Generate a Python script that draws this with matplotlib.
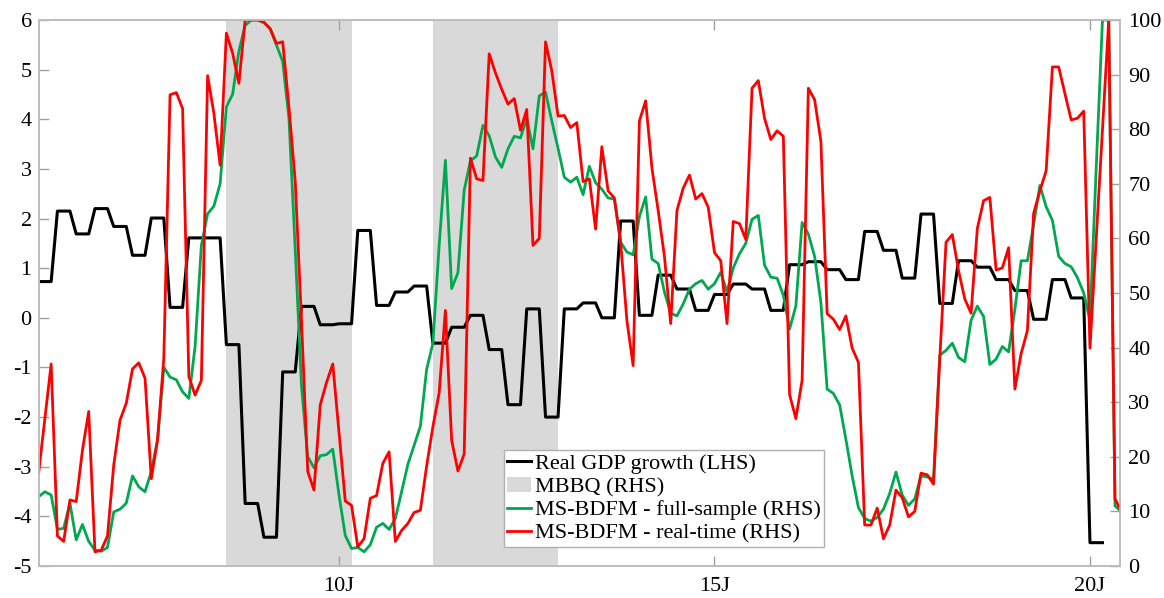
import numpy as np
import matplotlib
matplotlib.use('Agg')
import matplotlib.pyplot as plt
from matplotlib.patches import Patch
from matplotlib.lines import Line2D

plt.rcParams['font.family'] = ['Liberation Serif', 'DejaVu Serif']
plt.rcParams['axes.unicode_minus'] = False

# quarterly real GDP growth (LHS), 2006Q1 - 2020Q1, drawn as 3-month steps
gdp_q = [0.73, 2.15, 1.69, 2.20, 1.84, 1.26, 2.01, 0.21, 1.61, 1.61,
         -0.54, -3.74, -4.42, -1.09, 0.23, -0.14, -0.12, 1.76, 0.25, 0.52,
         0.64, -0.51, -0.19, 0.05, -0.64, -1.75, 0.18, -2.00, 0.18, 0.30,
         0.00, 1.95, 0.05, 0.86, 0.58, 0.15, 0.47, 0.68, 0.58, 0.15,
         1.07, 1.13, 0.97, 0.77, 1.74, 1.36, 0.80, 2.09, 0.29, 1.15,
         1.02, 0.77, 0.55, -0.03, 0.77, 0.40, -4.53]

# monthly recession probabilities (RHS), Jan 2006 - Jun 2020
full_sample = [12.7, 13.6, 13.0, 6.7, 6.9, 11.5, 4.8, 7.6, 4.5, 2.9,
               2.7, 3.4, 9.9, 10.4, 11.5, 16.5, 14.5, 13.6, 17.3, 23.1,
               36.4, 34.6, 34.1, 31.9, 30.7, 40.2, 58.7, 64.5, 65.9, 70.0,
               84.1, 86.4, 94.3, 99.0, 100, 100, 99.5, 98.4, 95.4, 92.4,
               82, 58, 33, 20.0, 18.0, 20.2, 20.4, 21.4, 13.0, 5.6,
               3.2, 3.4, 2.6, 3.9, 7.1, 7.8, 6.7, 8.7, 13.6, 18.6,
               22.1, 25.6, 36.0, 40.8, 58.7, 74.3, 50.8, 53.7, 68.8, 74.2,
               75.1, 80.7, 78.8, 74.9, 73.0, 76.4, 78.7, 78.4, 82.0, 76.4,
               86.1, 86.8, 81.5, 76.5, 71.2, 70.3, 71.2, 68.0, 73.2, 70.2,
               69.0, 67.4, 67.2, 59.3, 57.5, 57.0, 64.0, 67.6, 56.2, 55.4,
               50.2, 46.3, 45.8, 48.0, 50.7, 51.7, 52.3, 50.7, 51.7, 53.8,
               50.2, 54.6, 57.2, 59.1, 63.5, 64.2, 55.1, 52.9, 52.7, 49.6,
               43.4, 47.6, 62.9, 60.8, 56.7, 48.3, 32.4, 31.6, 29.5, 23.2,
               16.5, 10.7, 8.7, 8.2, 8.9, 10.4, 13.3, 17.2, 13.0, 11.1,
               12.3, 16.5, 16.3, 15.9, 38.6, 39.5, 40.8, 38.2, 37.4, 45.0,
               47.6, 45.7, 36.9, 37.9, 40.2, 39.2, 47.0, 55.9, 55.9, 62.5,
               69.7, 65.8, 63.3, 56.7, 55.4, 54.8, 52.8, 50.0, 45.0, 73.0,
               100, 100, 11.0, 10.0]

real_time = [17.1, 27.0, 37.0, 5.5, 4.5, 12.1, 11.8, 21.2, 28.3, 2.6,
             2.9, 5.5, 18.5, 26.7, 29.8, 36.1, 37.2, 34.4, 16.0, 23.1,
             38.0, 86.3, 86.7, 83.8, 34.7, 31.3, 34.0, 89.8, 82.9, 73.4,
             97.6, 93.9, 88.4, 100, 100, 100, 99.6, 98.4, 95.7, 96.0,
             84.0, 70.5, 45.0, 17.3, 13.9, 29.5, 33.6, 37.0, 24.5, 11.9,
             11.1, 3.5, 5.0, 12.4, 12.9, 18.8, 20.9, 4.5, 6.5, 7.8,
             9.8, 10.2, 18.3, 25.5, 31.7, 46.8, 23.0, 17.4, 20.5, 74.7,
             70.9, 70.6, 93.8, 90.3, 87.3, 84.6, 85.6, 79.8, 83.6, 58.7,
             60.0, 96.0, 90.7, 82.4, 82.5, 80.3, 81.2, 70.4, 70.9, 61.7,
             76.8, 68.7, 67.4, 59.3, 45.0, 36.7, 81.5, 85.2, 72.9, 65.1,
             56.7, 44.4, 65.1, 69.2, 71.6, 67.2, 68.2, 65.7, 57.4, 55.9,
             44.4, 63.1, 62.7, 59.8, 87.5, 88.9, 82.0, 78.1, 79.7, 78.7,
             31.4, 27.0, 34.0, 87.5, 85.4, 77.8, 46.2, 45.2, 43.3, 45.8,
             39.9, 37.3, 7.5, 7.5, 10.6, 5.0, 7.5, 13.9, 12.5, 9.0,
             10.0, 17.0, 16.7, 15.0, 38.0, 59.3, 60.7, 54.1, 48.9, 46.3,
             61.8, 66.9, 67.5, 54.2, 54.6, 58.3, 32.4, 38.9, 43.1, 64.6,
             68.7, 72.4, 91.4, 91.4, 86.5, 81.7, 82.0, 83.3, 39.9, 60.0,
             80.0, 100, 12.3, 10.0]

# MBBQ recession months (start, end), counted from Jan 2006
mbbq_spans = [(30, 50), (63, 83)]

tick_years = [2010, 2015, 2020]
tick_labels = ['10J', '15J', '20J']

months = 2006 + np.arange(len(real_time)) / 12
gdp_monthly = np.repeat(gdp_q, 3)

fig = plt.figure(figsize=(11.64, 5.98), dpi=100)
ax = fig.add_axes([0.0332, 0.0535, 0.9290, 0.9131])
ax2 = ax.twinx()

shade = '#d9d9d9'
for start, end in mbbq_spans:
    ax.axvspan(2006 + start / 12, 2006 + end / 12, color=shade, lw=0, zorder=0)

ax.plot(months[:len(gdp_monthly)], gdp_monthly, color='black', lw=2.2, zorder=2)
ax2.plot(months, full_sample, color='#00a850', lw=2.0)
ax2.plot(months, real_time, color='#ff0000', lw=2.0)

ax.set_xlim(2006, 2006 + 172.8 / 12)
ax.set_ylim(-5, 6)
ax2.set_ylim(0, 100)
ax.set_yticks(range(-5, 7))
ax2.set_yticks(range(0, 101, 10))
ax.set_xticks(tick_years)
ax.set_xticklabels(tick_labels)

spine_col = '#bdbdbd'
for a in (ax, ax2):
    for s in a.spines.values():
        s.set_color(spine_col)
        s.set_linewidth(1.2)
ax.tick_params(axis='y', direction='in', length=7.5, width=1, color='#a0a0a0',
               labelsize=16, pad=5)
ax.tick_params(axis='x', direction='in', length=7.5, width=1, color='#a0a0a0',
               labelsize=16, pad=8, top=True)
ax2.tick_params(axis='y', direction='in', length=7.5, width=1, color='#a0a0a0',
                labelsize=16, pad=6)

handles = [Line2D([], [], color='black', lw=2.2),
           Patch(facecolor=shade, edgecolor='none'),
           Line2D([], [], color='#00a850', lw=2.0),
           Line2D([], [], color='#ff0000', lw=2.0)]
labels = ['Real GDP growth (LHS)', 'MBBQ (RHS)',
          'MS-BDFM - full-sample (RHS)', 'MS-BDFM - real-time (RHS)']
leg = ax2.legend(handles, labels, loc='lower left', bbox_to_anchor=(0.430, 0.035),
                 borderaxespad=0, fontsize=16, fancybox=False, framealpha=1,
                 edgecolor='#b0b0b0', handlelength=1.1, handletextpad=0.15,
                 labelspacing=0.12, borderpad=0.15)
leg.get_frame().set_linewidth(1.0)

fig.savefig('out.png', dpi=100)
